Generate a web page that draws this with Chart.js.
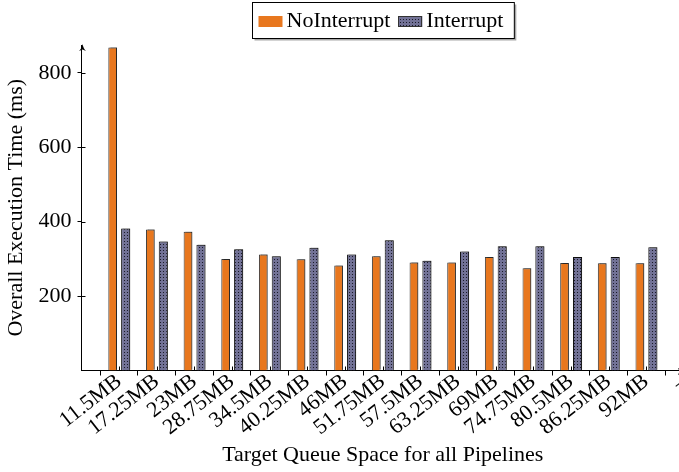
<!DOCTYPE html>
<html>
<head>
<meta charset="utf-8">
<script src="https://cdn.jsdelivr.net/npm/chart.js@4.4.1/dist/chart.umd.min.js"></script>
<style>
  html, body { margin: 0; padding: 0; overflow: hidden; background: #fff; }
  #wrap { width: 764px; height: 472px; position: relative; }
</style>
</head>
<body>
<div id="wrap"><canvas id="c" width="764" height="472"></canvas></div>
<script>
// Queue space settings (first slot is the empty axis origin, last one the trailing mark)
const categories = ['', '11.5MB', '17.25MB', '23MB', '28.75MB', '34.5MB', '40.25MB', '46MB',
  '51.75MB', '57.5MB', '63.25MB', '69MB', '74.75MB', '80.5MB', '86.25MB', '92MB', '–'];

// Overall execution time in ms
const noInterrupt = [null, 868, 379, 373, 300, 312, 299, 282, 307, 290, 290, 305, 275, 289, 288, 288, null];
const interrupt   = [null, 382, 347, 338, 326, 307, 330, 312, 350, 295, 320, 334, 334, 305, 305, 331, null];

const yTicks = [200, 400, 600, 800];
const yMax = 875;

const FONT = "'Liberation Serif', 'DejaVu Serif', serif";
const FS = 22;
const ORANGE = '#e8771e';
const SLATE = '#727296';

// Dotted fill used for the Interrupt series
function dotPattern() {
  const p = document.createElement('canvas');
  p.width = 3; p.height = 3;
  const g = p.getContext('2d');
  g.fillStyle = SLATE;
  g.fillRect(0, 0, 3, 3);
  g.fillStyle = '#1a1a28';
  g.fillRect(1, 1, 1, 1);
  return g.createPattern(p, 'repeat');
}
const ctx = document.getElementById('c').getContext('2d');
const pattern = dotPattern();

// Soft drop shadow behind the bars
const barShadow = {
  id: 'barShadow',
  beforeDatasetsDraw(chart) {
    const c = chart.ctx;
    c.save();
    c.shadowColor = 'rgba(0,0,0,0.32)';
    c.shadowOffsetX = 1.5;
    c.shadowOffsetY = -1.2;
    c.shadowBlur = 0.5;
  },
  afterDatasetsDraw(chart) { chart.ctx.restore(); }
};

// Axis arrows, inner tick halves and the framed legend
const axisDecor = {
  id: 'axisDecor',
  afterDraw(chart) {
    const c = chart.ctx;
    const a = chart.chartArea;
    const x = chart.scales.x, y = chart.scales.y;
    c.save();
    c.strokeStyle = '#000';
    c.fillStyle = '#000';
    c.lineWidth = 1;
    // inner halves of tick marks
    c.beginPath();
    yTicks.forEach(v => {
      const py = Math.round(y.getPixelForValue(v)) + 0.5;
      c.moveTo(a.left, py); c.lineTo(a.left + 4, py);
    });
    for (let i = 1; i < categories.length; i++) {
      const px = Math.round(x.getPixelForValue(i)) + 0.5;
      c.moveTo(px, a.bottom); c.lineTo(px, a.bottom - 4);
    }
    c.stroke();
    // arrow head on the value axis
    const ax = Math.round(a.left) + 0.5, ay = a.top - 1;
    c.beginPath();
    c.moveTo(ax, ay);
    c.quadraticCurveTo(ax - 1, ay + 5, ax - 3.5, ay + 7);
    c.lineTo(ax, ay + 5.5);
    c.lineTo(ax + 3.5, ay + 7);
    c.quadraticCurveTo(ax + 1, ay + 5, ax, ay);
    c.fill();
    // arrow head on the category axis
    const bx = a.right + 1, by = Math.round(a.bottom) + 0.5;
    c.beginPath();
    c.moveTo(bx, by);
    c.lineTo(bx - 7, by - 3.5);
    c.lineTo(bx - 5.5, by);
    c.lineTo(bx - 7, by + 3.5);
    c.fill();

    // legend
    c.font = FS + 'px ' + FONT;
    c.textBaseline = 'middle';
    const items = [
      { label: chart.data.datasets[0].label, fill: ORANGE },
      { label: chart.data.datasets[1].label, fill: pattern }
    ];
    const sw = 24, sh = 11, gapSw = 4, gapItem = 8, padL = 6, padR = 11;
    let total = padL + padR;
    items.forEach((it, i) => {
      it.w = c.measureText(it.label).width;
      total += sw + gapSw + it.w + (i ? 0 : gapItem);
    });
    const cx = (a.left + a.right) / 2;
    const left = Math.round(cx - total / 2) + 0.5, top = 2.5, h = 36;
    c.fillStyle = 'rgba(0,0,0,0.35)';
    c.fillRect(left + 2, top + 2, total, h);
    c.fillStyle = '#fff';
    c.fillRect(left, top, total, h);
    c.strokeStyle = '#000';
    c.strokeRect(left, top, total, h);
    let px = left + padL;
    const midY = top + h / 2;
    items.forEach((it, i) => {
      c.fillStyle = it.fill;
      c.fillRect(px, midY - sh / 2 + 1, sw, sh);
      if (i === 1) {
        c.strokeStyle = '#333';
        c.strokeRect(Math.round(px) + 0.5, Math.round(midY - sh / 2 + 1) + 0.5, sw - 1, sh - 1);
      }
      px += sw + gapSw;
      c.fillStyle = '#000';
      c.fillText(it.label, px, midY + 1);
      px += it.w + gapItem;
    });
    c.restore();
  }
};

new Chart(ctx, {
  type: 'bar',
  data: {
    labels: categories,
    datasets: [
      {
        label: 'NoInterrupt',
        data: noInterrupt,
        backgroundColor: ORANGE,
        borderColor: '#3a3a3a',
        borderWidth: 1,
        borderSkipped: 'bottom',
        barPercentage: 0.67,
        categoryPercentage: 0.69
      },
      {
        label: 'Interrupt',
        data: interrupt,
        backgroundColor: pattern,
        borderColor: '#111',
        borderWidth: 1,
        borderSkipped: 'bottom',
        barPercentage: 0.7,
        categoryPercentage: 0.69
      }
    ]
  },
  options: {
    responsive: false,
    animation: false,
    devicePixelRatio: 1,
    layout: { padding: { top: 45, right: 80, left: 0, bottom: 0 } },
    plugins: {
      legend: { display: false },
      tooltip: { enabled: false }
    },
    scales: {
      x: {
        offset: false,
        grid: { drawOnChartArea: false, color: '#000', tickLength: 5, tickWidth: 1 },
        border: { display: true, color: '#000', width: 1 },
        ticks: {
          color: '#000',
          font: { family: FONT, size: FS },
          minRotation: 38, maxRotation: 38,
          autoSkip: false,
          padding: -7
        },
        title: {
          display: true,
          text: 'Target Queue Space for all Pipelines',
          color: '#000',
          font: { family: FONT, size: FS },
          padding: { top: 0, bottom: 4 }
        },
        afterFit(s) { s.height = 101.5; }
      },
      y: {
        min: 0,
        max: yMax,
        afterBuildTicks(s) { s.ticks = yTicks.map(v => ({ value: v })); },
        grid: { drawOnChartArea: false, color: '#000', tickLength: 4, tickWidth: 1 },
        border: { display: true, color: '#000', width: 1 },
        ticks: {
          color: '#000',
          font: { family: FONT, size: FS },
          padding: 6
        },
        title: {
          display: true,
          text: 'Overall Execution Time (ms)',
          color: '#000',
          font: { family: FONT, size: FS },
          padding: { top: 3, bottom: 0 }
        },
        afterFit(s) { s.width = 81.5; }
      }
    }
  },
  plugins: [barShadow, axisDecor]
});
</script>
</body>
</html>
